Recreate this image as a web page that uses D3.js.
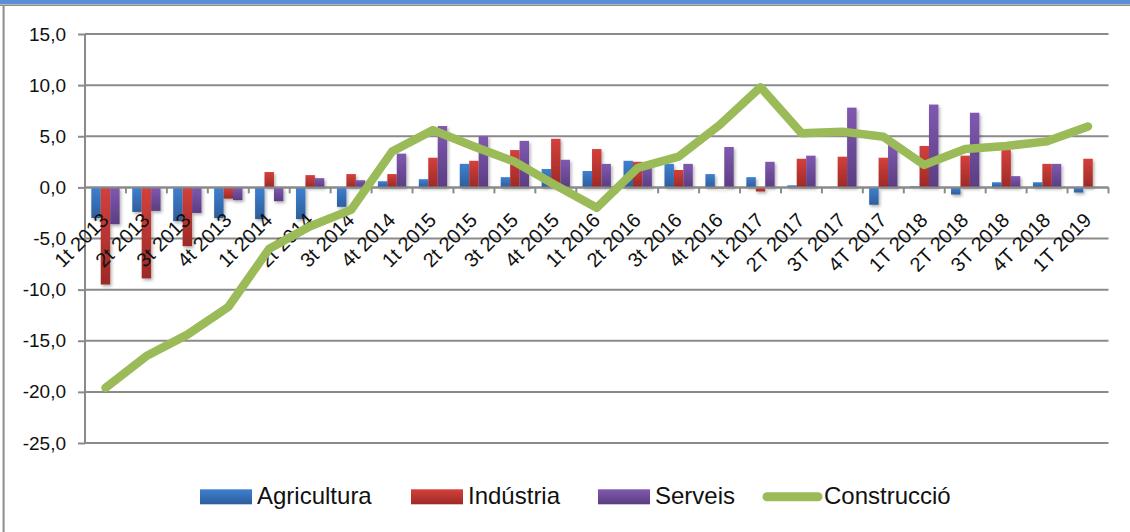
<!DOCTYPE html>
<html>
<head>
<meta charset="utf-8">
<script src="https://cdn.jsdelivr.net/npm/d3@7"></script>
<style>
  html, body { margin: 0; padding: 0; background: #fff; }
  svg { display: block; font-family: "Liberation Sans", Arial, sans-serif; }
</style>
</head>
<body>
<svg id="chart" width="1130" height="532"></svg>
<script>
// ---- DATA ----
const categories = ["1t 2013","2t 2013","3t 2013","4t 2013","1t 2014","2t 2014","3t 2014","4t 2014",
  "1t 2015","2t 2015","3t 2015","4t 2015","1t 2016","2t 2016","3t 2016","4t 2016",
  "1t 2017","2T 2017","3T 2017","4T 2017","1T 2018","2T 2018","3T 2018","4T 2018","1T 2019"];
const agricultura = [-3.0,-2.4,-3.3,-3.0,-3.1,-3.1,-1.9,0.6, 0.8,2.3,1.0,1.8, 1.6,2.6,2.3,1.3, 1.0,0.2,-0.05,-1.7, 0.1,-0.7,0.5,0.5,-0.5];
const industria   = [-9.5,-8.9,-5.75,-1.1,1.5,1.2,1.3,1.3, 2.9,2.6,3.65,4.75, 3.75,2.5,1.7,-0.1, -0.4,2.8,3.0,2.9, 4.05,3.1,3.65,2.3,2.8];
const serveis     = [-3.6,-2.3,-2.5,-1.25,-1.35,0.9,0.7,3.3, 6.0,5.0,4.55,2.7, 2.3,2.3,2.3,3.95, 2.5,3.1,7.8,4.15, 8.1,7.3,1.1,2.3,0.0];
const construccio = [-19.6,-16.5,-14.4,-11.7,-6.0,-3.8,-2.2,3.5, 5.6,4.0,2.5,0.2, -2.0,1.9,3.0,6.1, 9.8,5.3,5.45,4.95, 2.2,3.75,4.05,4.5,5.95];
const yTicks = [15,10,5,0,-5,-10,-15,-20,-25];
const barSeries = ["Agricultura","Indústria","Serveis"];
const lineSeries = "Construcció";

// ---- SETUP ----
const svg = d3.select("#chart");
const W = 1130, H = 532;
const plot = {left: 85, right: 1108.5, top: 34, bottom: 443};

const colors = {
  "Agricultura": ["#3f80d0", "#2d5e9c"],
  "Indústria":   ["#d4403b", "#9c2a27"],
  "Serveis":     ["#8059b0", "#5b3d82"]
};
const lineColor = "#9bbb59";

const defs = svg.append("defs");
barSeries.forEach((s, i) => {
  const g = defs.append("linearGradient").attr("id", "grad" + i)
    .attr("x1", 0).attr("y1", 0).attr("x2", 0).attr("y2", 1);
  g.append("stop").attr("offset", "0%").attr("stop-color", colors[s][0]);
  g.append("stop").attr("offset", "100%").attr("stop-color", colors[s][1]);
});
const f = defs.append("filter").attr("id", "shadow").attr("x", "-30%").attr("y", "-10%").attr("width", "160%").attr("height", "130%");
f.append("feDropShadow").attr("dx", 1.5).attr("dy", 2).attr("stdDeviation", 1.4)
  .attr("flood-color", "#000").attr("flood-opacity", 0.3);

// Frame
svg.append("rect").attr("x", 0).attr("y", 0).attr("width", W).attr("height", 4.2).attr("fill", "#5a8fd6");
svg.append("line").attr("x1", 0).attr("x2", W).attr("y1", 5.3).attr("y2", 5.3).attr("stroke", "#8c8c8c").attr("stroke-width", 1.4);
svg.append("line").attr("x1", 3.6).attr("x2", 3.6).attr("y1", 5).attr("y2", H).attr("stroke", "#8c8c8c").attr("stroke-width", 2);

// Scales
const x0 = d3.scaleBand().domain(categories).range([plot.left, plot.right]).paddingInner(0).paddingOuter(0);
const x1 = d3.scaleBand().domain(barSeries).range([0, x0.bandwidth()]).paddingInner(0).paddingOuter(0.67);
const y = d3.scaleLinear().domain([-25, 15]).range([plot.bottom, plot.top]);

// Gridlines
svg.append("g").selectAll("line").data(yTicks).join("line")
  .attr("x1", plot.left).attr("x2", plot.right)
  .attr("y1", d => y(d)).attr("y2", d => y(d))
  .attr("stroke", "#8a8a8a").attr("stroke-width", 2);

// Y axis
const yAxis = svg.append("g").attr("transform", `translate(${plot.left},0)`)
  .call(d3.axisLeft(y).tickValues(yTicks).tickSize(7).tickPadding(12)
    .tickFormat(d => d.toFixed(1).replace(".", ",")));
yAxis.select(".domain").attr("stroke", "#8a8a8a").attr("stroke-width", 2).attr("d", `M0,${plot.top}V${plot.bottom}`);
yAxis.selectAll(".tick line").attr("stroke", "#8a8a8a").attr("stroke-width", 2);
yAxis.selectAll(".tick text").attr("font-size", 19).attr("fill", "#111").attr("font-family", "Liberation Sans, Arial, sans-serif");

// X axis ticks at category boundaries
const bounds = categories.map(c => x0(c)).concat([plot.right]);
svg.append("g").selectAll("line").data(bounds.slice(1)).join("line")
  .attr("x1", d => d).attr("x2", d => d)
  .attr("y1", y(0)).attr("y2", y(0) + 6)
  .attr("stroke", "#8a8a8a").attr("stroke-width", 2);

// Bars
const seriesData = [agricultura, industria, serveis];
const barsG = svg.append("g").attr("filter", "url(#shadow)");
barSeries.forEach((s, i) => {
  barsG.append("g").selectAll("rect").data(categories).join("rect")
    .attr("x", c => x0(c) + x1(s))
    .attr("width", x1.bandwidth())
    .attr("y", (c, j) => y(Math.max(0, seriesData[i][j])))
    .attr("height", (c, j) => Math.abs(y(seriesData[i][j]) - y(0)))
    .attr("fill", `url(#grad${i})`);
});

// Zero line drawn on top of bars
svg.append("line").attr("x1", plot.left).attr("x2", plot.right)
  .attr("y1", y(0)).attr("y2", y(0)).attr("stroke", "#8a8a8a").attr("stroke-width", 2);

// X labels (rotated)
svg.append("g").selectAll("text").data(categories).join("text")
  .attr("transform", c => `translate(${x0(c) + x0.bandwidth() / 2 + 4.5},${y(0) + 34}) rotate(-45)`)
  .attr("text-anchor", "end")
  .attr("font-size", 20)
  .attr("fill", "#111")
  .text(c => c);

// Line
const line = d3.line()
  .x((d, j) => x0(categories[j]) + x0.bandwidth() / 2)
  .y(d => y(d));
svg.append("path").datum(construccio)
  .attr("d", line)
  .attr("fill", "none")
  .attr("stroke", lineColor)
  .attr("stroke-width", 8.5)
  .attr("stroke-linejoin", "round")
  .attr("stroke-linecap", "round");

// Legend
const legendItems = barSeries.concat([lineSeries]);
const legendX = [200, 411, 598, 763];
const legendG = svg.append("g");
legendItems.forEach((s, i) => {
  const lx = legendX[i];
  if (i < 3) {
    legendG.append("rect").attr("x", lx).attr("y", 489.3).attr("width", 52).attr("height", 15)
      .attr("fill", `url(#grad${i})`);
    legendG.append("text").attr("x", lx + 57).attr("y", 504.3).attr("font-size", 24).attr("fill", "#111").text(s);
  } else {
    legendG.append("line").attr("x1", lx + 4).attr("x2", lx + 55).attr("y1", 496.8).attr("y2", 496.8)
      .attr("stroke", lineColor).attr("stroke-width", 9).attr("stroke-linecap", "round");
    legendG.append("text").attr("x", lx + 61).attr("y", 504.3).attr("font-size", 24).attr("fill", "#111").text(s);
  }
});
</script>
</body>
</html>
